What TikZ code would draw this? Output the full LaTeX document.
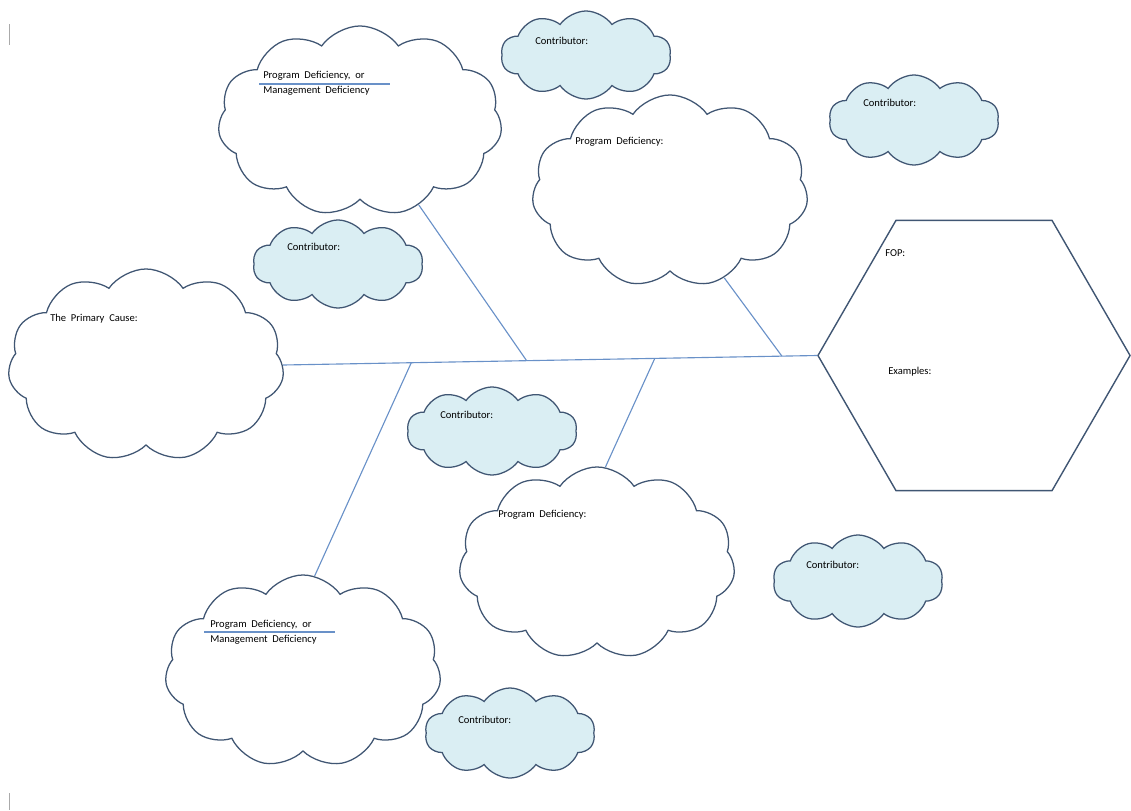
\documentclass[tikz,border=0pt]{standalone}
\usepackage{fontspec}
\setmainfont{Carlito}
\usetikzlibrary{shapes.symbols,shapes.geometric,calc}
\definecolor{cloudline}{RGB}{64,86,115}
\definecolor{bonecolor}{RGB}{105,145,200}
\definecolor{contribfill}{RGB}{218,238,243}
\definecolor{markgray}{RGB}{170,170,170}

\begin{document}
\begin{tikzpicture}[
    x=0.025cm, y=-0.025cm,
    every node/.style={font=\fontsize{7.5}{9}\selectfont},
    bigcloud/.style={cloud, cloud puffs=11, cloud puff arc=110, cloud ignores aspect, draw=cloudline, line width=0.9pt, fill=white, minimum width=6.9cm, minimum height=4.8cm},
    contrib/.style={cloud, cloud puffs=10, cloud puff arc=110, cloud ignores aspect, draw=cloudline, line width=0.9pt, fill=contribfill, minimum width=4.25cm, minimum height=2.2cm},
    hexa/.style={regular polygon, regular polygon sides=6, draw=cloudline, line width=1pt, minimum size=7.8cm, inner sep=0pt},
    bone/.style={draw=bonecolor, line width=0.8pt},
    rule/.style={draw=bonecolor, line width=0.9pt},
    tag/.style={anchor=west, inner sep=0pt}
]
\useasboundingbox (0,0) rectangle (1131,810);

% Page marks
\draw[markgray, line width=0.6pt] (9.5,24) -- (9.5,45);
\draw[markgray, line width=0.6pt] (9.5,793) -- (9.5,810);

% Head and tail
\node[hexa] (fop) at (974,355.5) {};
\node[bigcloud] (cause) at (146,365) {};

% Cause clouds
\node[bigcloud, minimum width=7.1cm, minimum height=4.75cm] (pd1) at (360,121) {};
\node[bigcloud] (pd2) at (670,191) {};
\node[bigcloud] (pd3) at (597,563) {};
\node[bigcloud] (pd4) at (303,671) {};

% Contributor clouds
\node[contrib] (c1) at (586,55) {};
\node[contrib, minimum height=2.25cm] (c2) at (914,120) {};
\node[contrib] (c3) at (338,264) {};
\node[contrib] (c4) at (492,431) {};
\node[contrib, minimum height=2.3cm] (c5) at (858,581) {};
\node[contrib, minimum height=2.25cm] (c6) at (510,733) {};

% Spine and bones
\coordinate (j1) at ($(cause.east)!0.456!(fop.west)$);
\coordinate (j2) at ($(cause.east)!0.934!(fop.west)$);
\coordinate (j3) at ($(cause.east)!0.240!(fop.west)$);
\coordinate (j4) at ($(cause.east)!0.696!(fop.west)$);
\draw[bone] (cause.east) -- (fop.west);
\draw[bone] (pd1.-55) -- (j1);
\draw[bone] (pd2.-58) -- (j2);
\draw[bone] (pd4.83) -- (j3);
\draw[bone] (pd3.85) -- (j4);

% Texts
\node[tag] (pd1a) at (263,76) {Program\ \ Deficiency,\ \ or};
\node[tag] (pd1b) at (263,91) {Management\ \ Deficiency};
\draw[rule] (259,84) -- (390,84);
\node[tag] (pd2t) at (575,142) {Program\ \ Deficiency:};
\node[tag] (pd3t) at (498,515) {Program\ \ Deficiency:};
\node[tag] (pd4a) at (210,624.5) {Program\ \ Deficiency,\ \ or};
\node[tag] (pd4b) at (210,640) {Management\ \ Deficiency};
\draw[rule] (204,632) -- (335,632);
\node[tag] (causet) at (50,319) {The\ \ Primary\ \ Cause:};
\node[tag] (fopt) at (885,253) {FOP:};
\node[tag] (exmp) at (888,372) {Examples:};
\node[tag] (c1t) at (535,41) {Contributor:};
\node[tag] (c2t) at (863,103) {Contributor:};
\node[tag] (c3t) at (287,247) {Contributor:};
\node[tag] (c4t) at (440,415) {Contributor:};
\node[tag] (c5t) at (806,565) {Contributor:};
\node[tag] (c6t) at (458,720) {Contributor:};

\end{tikzpicture}
\end{document}
